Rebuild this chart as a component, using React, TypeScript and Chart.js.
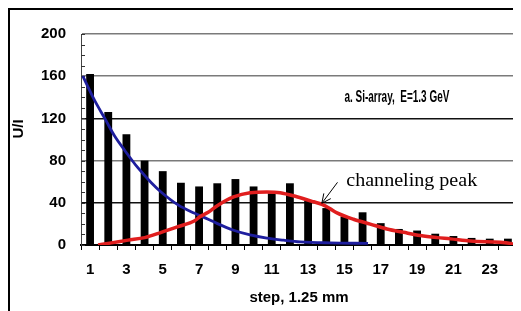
import React, { useEffect, useRef } from 'react';
import { Chart, registerables } from 'chart.js';

Chart.register(...registerables);

// ---- data ----
const categories = ['1', '2', '3', '4', '5', '6', '7', '8', '9', '10', '11', '12', '13', '14', '15', '16', '17', '18', '19', '20', '21', '22', '23', '24'];
const counts = [162, 126, 105, 80, 70, 59, 55.5, 58.5, 62.5, 55.5, 49, 58.5, 42, 35, 27, 31, 20.7, 15.2, 13.7, 10.7, 8.5, 6.7, 6, 6];

// blue fitted curve (x in step units)
const blueX = [0.6, 1.25, 1.81, 2.36, 2.91, 3.64, 4.37, 4.92, 5.84, 6.76, 7.5, 7.98, 8.9, 9.81, 10.73, 11.65, 12.57, 14.2, 16.3];
const blueY = [160, 137, 120, 103, 89.6, 73, 59, 50, 38, 30, 24.4, 20.5, 14, 9.5, 6.5, 4.6, 3, 2, 1.5];

// red channeling-peak curve
const redX = [1.44, 2.17, 3.09, 4.01, 4.92, 5.84, 6.76, 7.06, 7.5, 7.98, 8.9, 9.81, 10.73, 11.46, 12.38, 13.3, 13.76, 14.2, 14.59, 15.5, 16.42, 17.34, 18.26, 19.18, 20.1, 20.83, 21.93, 24.14, 24.5];
const redY = [0, 2, 4.6, 7, 12, 17.4, 23, 27, 31, 37, 45.5, 49.6, 50.3, 49.6, 45.7, 41, 38.5, 34.5, 30.5, 24.4, 19.8, 15.2, 12, 9, 7, 5.8, 3.7, 1.5, 0];

const yMajorTicks = [0, 40, 80, 120, 160, 200];
const yMinorTicks = [10, 20, 30, 50, 60, 70, 90, 100, 110, 130, 140, 150, 170, 180, 190];

const SANS = '"Liberation Sans", Arial, sans-serif';
const NARROW = '"Liberation Sans Narrow", "Arial Narrow", "Liberation Sans", sans-serif';
const SERIF = '"Liberation Serif", "Times New Roman", serif';

function fitText(ctx: CanvasRenderingContext2D, text: string, x: number, y: number, target: number) {
  const w = ctx.measureText(text).width;
  const s = target / w;
  ctx.save();
  ctx.translate(x, y);
  ctx.scale(s, 1);
  ctx.fillText(text, 0, 0);
  ctx.restore();
}

const annotPlugin = {
  id: 'annot',
  beforeDatasetsDraw(chart: any) {
    const { ctx, chartArea, scales } = chart;
    const y = scales.y;
    ctx.save();
    ctx.strokeStyle = '#333';
    ctx.lineWidth = 1;
    for (const v of yMinorTicks.concat(yMajorTicks)) {
      const py = Math.round(y.getPixelForValue(v)) + 0.5;
      ctx.beginPath();
      ctx.moveTo(chartArea.left, py);
      ctx.lineTo(chartArea.left + 4, py);
      ctx.stroke();
    }
    // right edge of plot
    ctx.strokeStyle = '#888';
    ctx.lineWidth = 1.5;
    ctx.beginPath();
    ctx.moveTo(chartArea.right, chartArea.top);
    ctx.lineTo(chartArea.right, chartArea.bottom);
    ctx.stroke();
    ctx.restore();
  },
  afterDraw(chart: any) {
    const { ctx, scales } = chart;
    const x = scales.x;
    const y = scales.y;
    ctx.save();
    ctx.fillStyle = '#000';
    ctx.textBaseline = 'middle';
    ctx.textAlign = 'left';

    // panel label
    ctx.font = '600 17px ' + NARROW;
    fitText(ctx, 'a. Si-array,  E=1.3 GeV', x.getPixelForValue(15), y.getPixelForValue(140), 105);

    // channeling peak label
    ctx.font = '19px ' + SERIF;
    fitText(ctx, 'channeling peak', x.getPixelForValue(15.1), y.getPixelForValue(60.5), 131);

    // arrow
    const tx = x.getPixelForValue(13.76), ty = y.getPixelForValue(39.6);
    const sx = x.getPixelForValue(14.62), sy = y.getPixelForValue(59.4);
    ctx.strokeStyle = '#000';
    ctx.lineWidth = 1;
    ctx.beginPath();
    ctx.moveTo(sx, sy);
    ctx.lineTo(tx, ty);
    const ang = Math.atan2(sy - ty, sx - tx);
    const len = 10;
    for (const d of [-0.45, 0.45]) {
      ctx.moveTo(tx, ty);
      ctx.lineTo(tx + len * Math.cos(ang + d), ty + len * Math.sin(ang + d));
    }
    ctx.stroke();

    // y title
    ctx.font = 'bold 15px ' + SANS;
    ctx.textAlign = 'center';
    ctx.translate(9, y.getPixelForValue(110));
    ctx.rotate(-Math.PI / 2);
    ctx.fillText('U/I', 0, 0);
    ctx.restore();
  },
};

export default function App() {
  const ref = useRef<HTMLCanvasElement>(null);
  useEffect(() => {
    if (!ref.current) return;
    const chart = new Chart(ref.current, {
      type: 'bar',
      data: {
        datasets: [
          {
            type: 'line',
            data: redX.map((xv, i) => ({ x: xv, y: redY[i] })),
            borderColor: '#e01e1e',
            borderWidth: 3.5,
            pointRadius: 0,
            cubicInterpolationMode: 'monotone',
            fill: false,
            order: 0,
          } as any,
          {
            type: 'line',
            data: blueX.map((xv, i) => ({ x: xv, y: blueY[i] })),
            borderColor: '#1e1e9e',
            borderWidth: 2.8,
            pointRadius: 0,
            cubicInterpolationMode: 'monotone',
            fill: false,
            order: 1,
          } as any,
          {
            type: 'bar',
            data: counts.map((v, i) => ({ x: Number(categories[i]), y: v })),
            backgroundColor: '#000',
            barPercentage: 0.43,
            categoryPercentage: 1,
            grouped: false,
            order: 2,
          } as any,
        ],
      },
      options: {
        animation: false,
        responsive: false,
        devicePixelRatio: 1,
        layout: { padding: { left: 0, right: 4, top: 16, bottom: 0 } },
        plugins: { legend: { display: false }, tooltip: { enabled: false } },
        scales: {
          x: {
            type: 'linear',
            min: 0.5,
            max: 24.5,
            offset: false,
            afterBuildTicks: (s: any) => { s.ticks = categories.map((c) => ({ value: Number(c) })); },
            grid: { offset: true, drawOnChartArea: false, drawTicks: true, tickLength: 5, color: '#000' },
            border: { display: true, color: '#000', width: 2 },
            ticks: {
              autoSkip: false,
              maxRotation: 0,
              padding: 11,
              color: '#000',
              font: { family: SANS, size: 15, weight: 'bold' },
              callback: (_v: any, i: number) => (i % 2 === 0 ? categories[i] : ''),
            },
            title: {
              display: true,
              text: 'step, 1.25 mm',
              color: '#000',
              font: { family: SANS, size: 15, weight: 'bold' },
              padding: { top: 0, bottom: 4 },
            },
            afterFit: (s: any) => { s.height = 66; },
          } as any,
          y: {
            min: 0,
            max: 200,
            afterBuildTicks: (s: any) => { s.ticks = yMajorTicks.map((v) => ({ value: v })); },
            grid: {
              drawTicks: false,
              lineWidth: 1.5,
              color: (c: any) => (c.tick && (c.tick.value === 120 || c.tick.value === 40 || c.tick.value === 0) ? '#111' : '#7a7a7a'),
            },
            border: { display: true, color: '#444', width: 1 },
            ticks: {
              padding: 15,
              color: '#000',
              font: { family: SANS, size: 15, weight: 'bold' },
            },
            afterFit: (s: any) => { s.width = 71; },
          },
        },
      },
      plugins: [annotPlugin],
    });
    return () => chart.destroy();
  }, []);
  return (
    <div style={{ borderLeft: '2px solid #000', borderTop: '2px solid #000', width: 511, height: 301 }}>
      <canvas ref={ref} width={511} height={301} style={{ display: 'block', width: 511, height: 301 }} />
    </div>
  );
}
